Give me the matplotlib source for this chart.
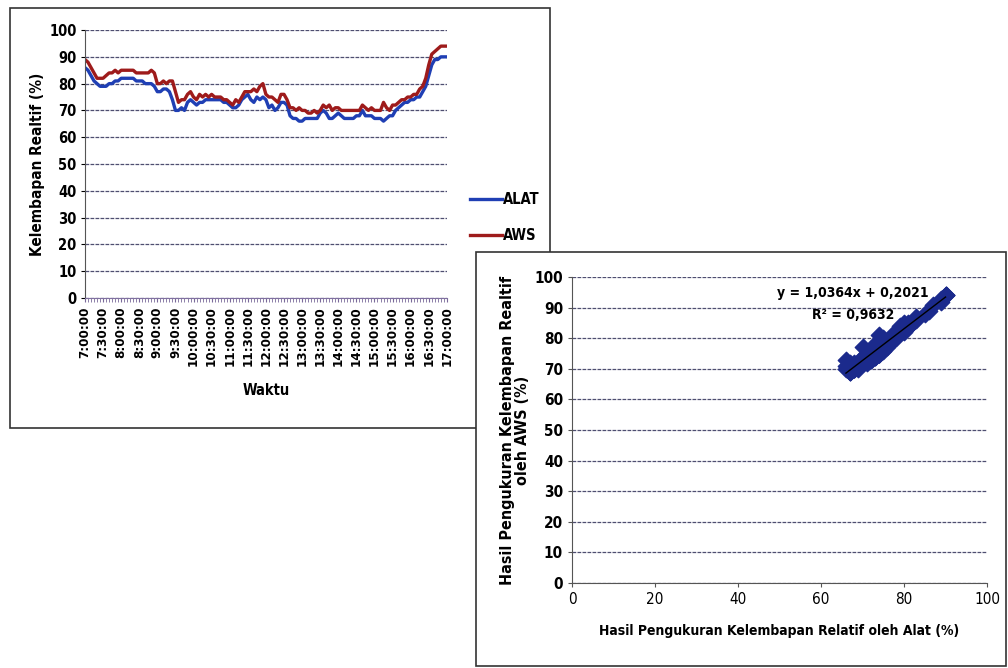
import numpy as np
import matplotlib
matplotlib.use("Agg")
import matplotlib.pyplot as plt
from matplotlib.patches import Rectangle

plt.rcParams["font.family"] = ["DejaVu Sans"]
plt.rcParams["font.stretch"] = "condensed"
plt.rcParams["font.weight"] = "bold"

# relative humidity, 5-minute readings from 7:00:00 to 17:00:00
times = [f"{7 + m // 60}:{m % 60:02d}:00" for m in range(0, 601, 5)]

rh_alat = [
    86, 85, 83, 81, 80, 79, 79, 79, 80, 80, 81, 81,   # 7:00
    82, 82, 82, 82, 82, 81, 81, 81, 80, 80, 80, 79,   # 8:00
    77, 77, 78, 78, 77, 74, 70, 70, 71, 70, 73, 74,   # 9:00
    73, 72, 73, 73, 74, 74, 74, 74, 74, 74, 73, 73,   # 10:00
    72, 71, 71, 72, 74, 75, 76, 74, 73, 75, 74, 75,   # 11:00
    74, 71, 72, 70, 71, 73, 73, 72, 68, 67, 67, 66,   # 12:00
    66, 67, 67, 67, 67, 67, 69, 70, 69, 67, 67, 68,   # 13:00
    69, 68, 67, 67, 67, 67, 68, 68, 70, 68, 68, 68,   # 14:00
    67, 67, 67, 66, 67, 68, 68, 70, 71, 72, 73, 73,   # 15:00
    74, 74, 75, 75, 77, 79, 83, 87, 89, 89, 90, 90,   # 16:00
    90,                                               # 17:00
]
rh_aws = [
    89, 88, 86, 84, 82, 82, 82, 83, 84, 84, 85, 84,
    85, 85, 85, 85, 85, 84, 84, 84, 84, 84, 85, 84,
    80, 80, 81, 80, 81, 81, 77, 73, 74, 74, 76, 77,
    75, 74, 76, 75, 76, 75, 76, 75, 75, 75, 74, 74,
    73, 72, 74, 73, 75, 77, 77, 77, 78, 77, 79, 80,
    76, 75, 75, 74, 73, 76, 76, 74, 71, 71, 70, 71,
    70, 70, 69, 69, 70, 69, 70, 72, 71, 72, 70, 71,
    71, 70, 70, 70, 70, 70, 70, 70, 72, 71, 70, 71,
    70, 70, 70, 73, 71, 70, 72, 72, 73, 74, 74, 75,
    75, 76, 76, 78, 79, 82, 87, 91, 92, 93, 94, 94,
    94,
]

# linear regression reported on the scatter
slope = 1.0364
intercept = 0.2021
r_squared = 0.9632

grid_color = "#4e4e70"

fig = plt.figure(figsize=(10.08, 6.68), dpi=100)

# ---- time series panel ----
fig.add_artist(Rectangle((0.0099, 0.3593), 0.5357, 0.6287, transform=fig.transFigure,
                         facecolor="white", edgecolor="#333333", lw=1.2, zorder=0.5))
ax1 = fig.add_axes([0.0843, 0.554, 0.359, 0.401])
ax1.set_zorder(1)
ax1.patch.set_alpha(0)
x = np.arange(len(times))
ax1.plot(x, rh_alat, color="#1f3fb4", lw=2.4, label="ALAT")
ax1.plot(x, rh_aws, color="#9e1b1b", lw=2.4, label="AWS")
ax1.set_xlim(0, len(times) - 1)
ax1.set_ylim(0, 100)
ax1.set_yticks(range(0, 101, 10))
ax1.set_xticks(x[::6])
ax1.set_xticklabels(times[::6], rotation=90, fontsize=9.5, fontweight="bold")
ax1.set_xticks(x, minor=True)
ax1.tick_params(axis="x", which="minor", length=3, color="#7a6a9a", width=0.6)
ax1.tick_params(axis="x", which="major", length=3, color="#7a6a9a", pad=3)
ax1.tick_params(axis="y", labelsize=10.5, length=3, pad=3)
for lbl in ax1.get_yticklabels():
    lbl.set_fontweight("bold")
ax1.grid(axis="y", color=grid_color, lw=0.9, ls=(0, (3, 1)))
ax1.set_axisbelow(True)
for s in ("top", "right"):
    ax1.spines[s].set_visible(False)
ax1.spines["left"].set_color("#555555")
ax1.spines["bottom"].set_color("#8070a0")
ax1.set_ylabel("Kelembapan Realtif (%)", fontsize=11, fontweight="bold", labelpad=3)
ax1.set_xlabel("Waktu", fontsize=10.5, fontweight="bold", labelpad=12)
ax1.legend(loc="center left", bbox_to_anchor=(1.063, 0.30), frameon=False,
           borderpad=0, borderaxespad=0,
           handlelength=2.2, handletextpad=0.05, labelspacing=1.45,
           prop={"size": 10.5, "weight": "bold", "stretch": "condensed"})

# ---- scatter panel ----
fig.add_artist(Rectangle((0.4722, 0.003), 0.526, 0.62, transform=fig.transFigure,
                         facecolor="white", edgecolor="#333333", lw=1.2, zorder=2))
ax2 = fig.add_axes([0.5675, 0.1272, 0.4117, 0.458])
ax2.set_zorder(3)
ax2.patch.set_alpha(0)
ax2.scatter(rh_alat, rh_aws, marker="D", s=70, color="#1b2a8c", edgecolors="#1b2a8c",
            zorder=3)
xfit = np.array([min(rh_alat), max(rh_alat)])
ax2.plot(xfit, slope * xfit + intercept, color="black", lw=1.0, zorder=4)
ax2.text(67.6, 94.8, f"y = {slope:.4f}x + {intercept:.4f}".replace(".", ","),
         ha="center", va="center", fontsize=10, fontweight="bold", zorder=5)
ax2.text(67.8, 87.6, f"R\u00b2 = {r_squared:.4f}".replace(".", ","),
         ha="center", va="center", fontsize=10, fontweight="bold", zorder=5)
ax2.set_xlim(0, 100)
ax2.set_ylim(0, 100)
ax2.set_xticks(range(0, 101, 20))
ax2.set_yticks(range(0, 101, 10))
ax2.tick_params(axis="both", labelsize=11, length=3, color="#555555")
for lbl in ax2.get_yticklabels():
    lbl.set_fontweight("bold")
for lbl in ax2.get_xticklabels():
    lbl.set_fontweight("normal")
ax2.grid(axis="y", color=grid_color, lw=0.9, ls=(0, (3, 1)))
ax2.set_axisbelow(True)
for s in ("top", "right"):
    ax2.spines[s].set_visible(False)
ax2.spines["left"].set_color("#555555")
ax2.spines["bottom"].set_color("#555555")
ax2.set_ylabel("Hasil Pengukuran Kelembapan Realtif\noleh AWS (%)", fontsize=11.5,
               fontweight="bold", labelpad=3, linespacing=1.0)
ax2.set_xlabel("Hasil Pengukuran Kelembapan Relatif oleh Alat (%)", fontsize=10,
               fontweight="bold", labelpad=12)

fig.savefig("out.png", dpi=100)
